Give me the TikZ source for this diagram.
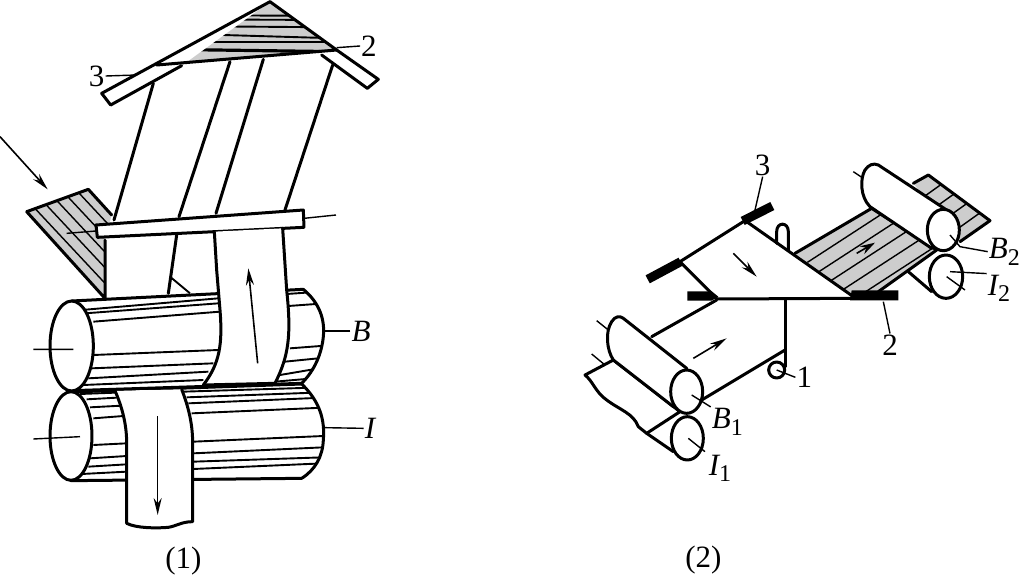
\documentclass[tikz,border=0pt]{standalone}
\usepackage{fontspec}
\setmainfont{Liberation Serif}
\usetikzlibrary{arrows.meta}
\definecolor{paper}{HTML}{CDCDCD}
\newcommand{\subs}[2]{{\itshape #1}\raisebox{-.22em}{\fontsize{24}{24}\selectfont #2}}
\tikzset{
  ink/.style={line width=3pt,line join=round,line cap=round},
  rule/.style={line width=1.9pt},
  thin rule/.style={line width=1.4pt},
  bar/.style={line width=9pt,line cap=butt},
  lbl/.style={font=\fontsize{31}{31}\selectfont,inner sep=1pt},
  ilbl/.style={font=\fontsize{31}{31}\selectfont\itshape,inner sep=1pt},
  flow/.style={line width=1.6pt,-{Stealth[length=17pt,width=8pt]}},
  blank/.style={fill=white}
}
\begin{document}
\begin{tikzpicture}[x=1pt,y=-1pt]
\useasboundingbox (0,0) rectangle (1019,576);
\fill[white] (0,0) rectangle (1019,576);
% ---------- figure (1)
\begin{scope}[x=.33333pt,y=-.33333pt]
 % top triangle
 \fill[paper] (810,5) -- (1010,150) -- (470,195) -- cycle;
 \begin{scope}
  \clip (810,5) -- (1010,150) -- (470,195) -- cycle;
  \foreach \b/\d in {45/48,58/60,78/82,100/115,125/125}
   \draw[rule] (500,\b) -- (1010,\d);
  \draw[line width=3.2pt] (500,148) -- (1010,155);
 \end{scope}
 % sheets
 \draw[ink] (460,250) -- (342,660) (690,185) -- (537,650) (790,178) -- (648,640) (998,195) -- (855,630);
 % roof bars
 \draw[ink,blank] (1010,150) -- (1135,238) -- (1102,265) -- (965,165);
 \draw[ink,blank] (810,5) -- (305,280) -- (332,315) -- (545,197);
 \draw[ink] (810,5) -- (1010,150) (470,195) -- (1010,150);
 % feed sheet
 \fill[paper] (80,635) -- (265,568) -- (335,645) -- (315,720) -- (315,895) -- cycle;
 \begin{scope}
  \clip (80,635) -- (265,568) -- (335,645) -- (315,720) -- (315,895) -- cycle;
  \foreach \o in {0,33,...,300}
   \draw[thin rule] (100+\o,620-.35*\o) -- (100+\o+290,620-.35*\o+310);
 \end{scope}
 \draw[ink] (80,635) -- (265,568) -- (335,645) (315,720) -- (315,895) -- (80,635);
 % guide bar
 \draw[ink,blank] (288,675) -- (910,630) -- (912,682) -- (292,712) -- cycle;
 \draw[thin rule] (912,655) -- (1008,645) (200,700) -- (288,693);
 \draw[ink] (530,705) -- (505,880);
 \draw[rule] (510,830) -- (570,880);
 \draw[flow] (0,410) -- (143,568);
 \begin{scope}[shift={(0,810)}]
  % lower roller
  \draw[ink,blank] (213,366) -- (905,342) .. controls (960,395) and (975,450) .. (970,510) .. controls (968,560) and (945,600) .. (905,625) -- (213,632) -- cycle;
  \begin{scope}
   \clip (213,366) -- (905,342) .. controls (960,395) and (975,450) .. (970,510) .. controls (968,560) and (945,600) .. (905,625) -- (213,632) -- cycle;
   \foreach \a/\b/\c/\d in {240/372/345/368,260/388/350/383,270/412/365/407,280/445/370/438,280/525/380/520,270/565/380/558,265/590/380/583,245/612/380/605,
     550/365/970/352,560/382/970/367,565/400/970/383,575/430/970/413,580/515/970/498,580/550/970/532,580/575/970/562,580/597/970/580}
    \draw[rule] (\a,\b) -- (\c,\d);
  \end{scope}
  \draw[ink,blank] (213,498) ellipse [x radius=63,y radius=133];
  % lower belt
  \draw[ink,blank] (345,362) .. controls (370,420) and (380,470) .. (380,520) -- (380,760) .. controls (410,775) and (470,775) .. (505,772) .. controls (530,768) and (545,755) .. (578,755) -- (578,520) .. controls (578,460) and (565,410) .. (545,358);
  % upper roller
  \draw[ink,blank] (215,93) -- (910,58) .. controls (960,100) and (975,150) .. (970,200) .. controls (965,250) and (945,300) .. (905,340) -- (215,362) -- cycle;
  \begin{scope}
   \clip (215,93) -- (910,58) .. controls (960,100) and (975,150) .. (970,200) .. controls (965,250) and (945,300) .. (905,340) -- (215,362) -- cycle;
   \foreach \a/\b/\c/\d in {245/120/655/85,255/130/655/100,280/155/660/125,280/255/655/240,275/295/640/280,265/325/625/305,250/345/610/330,
     860/72/975/64,865/108/975/100,870/235/975/227,855/275/975/263,840/315/975/292,825/335/975/322}
    \draw[rule] (\a,\b) -- (\c,\d);
  \end{scope}
  \draw[ink,blank] (215,228) ellipse [x radius=65,y radius=135];
  % upper belt
  \fill[white] (643,-115) -- (848,-125) -- (860,60) .. controls (875,200) and (865,260) .. (825,340) -- (610,345) .. controls (655,290) and (668,240) .. (665,180) -- (650,0) -- cycle;
  \draw[ink] (643,-115) -- (650,0) -- (660,120) .. controls (668,220) and (660,280) .. (610,345);
  \draw[ink] (848,-125) -- (860,60) .. controls (875,200) and (865,260) .. (825,340);
  \draw[ink] (610,345) -- (825,340);
  \draw[flow] (773,280) -- (745,-5);
  \draw[flow] (473,438) -- (473,735);
  \draw[thin rule] (100,238) -- (220,238) (100,507) -- (240,500);
  \node[ilbl] (lB) at (1083,183) {B};
  \node[ilbl] (lI) at (1110,475) {I};
  \draw[thin rule] (lB.west) -- (975,183);
  \draw[thin rule] (lI.west) -- (975,473);
  \node[lbl] (cap1) at (550,873) {(1)};
 \end{scope}
 \node[lbl] (l3) at (290,228) {3};
 \node[lbl] (l2) at (1107,138) {2};
 \draw[thin rule] (l3.east) -- (410,225);
 \draw[thin rule] (l2.west) -- (1010,143);
\end{scope}
% ---------- figure (2)
\begin{scope}[shift={(570,150)},x=.33333pt,y=-.33333pt]
 % rear sheet behind B2
 \fill[paper] (1030,100) -- (1075,75) -- (1260,212) -- (1170,275) -- cycle;
 \begin{scope}
  \clip (1030,100) -- (1075,75) -- (1260,212) -- (1170,275) -- cycle;
  \foreach \o in {0,1,2,3,4}
   \draw[thin rule] (1055+\o*38,145+\o*29) -- (1125+\o*38,95+\o*29);
 \end{scope}
 \draw[ink] (1030,100) -- (1075,75) -- (1260,212) -- (1170,275);
 % lower right roller
 \draw[ink] (1015,365) -- (1085,425);
 \draw[ink,blank] (1128,380) ellipse [x radius=50,y radius=65];
 % coated sheet
 \fill[paper] (675,310) -- (905,175) -- (1100,300) -- (925,425) -- (850,440) -- cycle;
 \begin{scope}
  \clip (675,310) -- (905,175) -- (1100,300) -- (925,425) -- (850,440) -- cycle;
  \foreach \o in {0,1,...,6}
   \draw[thin rule] (700+\o*36,345+\o*27) -- (1000+\o*36,150+\o*27);
 \end{scope}
 \draw[ink] (675,310) -- (905,175) (905,175) -- (1100,300) (1100,300) -- (925,425);
 \draw[flow,-{Stealth[length=15pt,width=9pt]}] (860,310) -- (915,278);
 % roller B2
 \draw[ink,blank] (925,45) -- (1130,180) -- (1085,295) -- (900,170) .. controls (870,140) and (870,85) .. (885,60) .. controls (895,45) and (910,38) .. (925,45) -- cycle;
 \draw[ink,blank] (1120,240) ellipse [x radius=48,y radius=62];
 \draw[thin rule] (850,65) -- (880,85);
 % small top loop
 \draw[ink] (620,280) -- (620,245) .. controls (620,215) and (655,215) .. (655,245) -- (655,300);
 % triangular sheet
 \draw[ink] (530,215) -- (850,440);
 \draw[ink] (330,335) -- (520,215);
 \draw[ink] (330,335) -- (440,445);
 \draw[ink] (440,447) -- (850,445);
 \draw[ink] (440,450) -- (245,560);
 \draw[ink] (645,450) -- (645,650);
 \draw[ink] (645,600) -- (395,750);
 % bars
 \draw[bar] (518,213) -- (607,168);
 \draw[bar] (233,388) -- (332,335);
 \fill[black] (352,424) -- (425,424) -- (445,440) -- (425,452) -- (352,452) -- cycle;
 \fill[black] (845,421) -- (985,421) -- (985,451) -- (840,451) -- cycle;
 % small roller 1
 \draw[ink,blank] (620,660) circle [radius=24];
 \node[lbl] (l1) at (703,682) {1};
 \draw[thin rule] (l1.west) -- (620,660);
 % lower-left paper
 \draw[ink,blank] (130,630) -- (45,675) .. controls (70,695) and (75,725) .. (110,750) .. controls (150,780) and (190,790) .. (205,830) -- (230,850) -- (330,785) -- cycle;
 \draw[ink] (230,850) -- (310,905);
 \draw[ink,blank] (352,865) ellipse [x radius=48,y radius=65];
 \draw[thin rule] (65,612) -- (105,645);
 % roller B1
 \draw[ink,blank] (160,505) -- (350,655) -- (310,770) -- (130,630) .. controls (110,600) and (105,545) .. (125,515) .. controls (135,498) and (150,497) .. (160,505) -- cycle;
 \draw[ink,blank] (350,725) ellipse [x radius=48,y radius=65];
 \draw[thin rule] (80,512) -- (115,540);
 \draw[flow] (370,625) -- (470,565);
 \draw[flow] (490,310) -- (560,380);
 % labels
 \node[lbl] (n3) at (578,45) {3};
 \draw[thin rule] (n3.south) -- (555,180);
 \node[lbl] (n2) at (960,585) {2};
 \draw[thin rule] (n2.north) -- (940,455);
 \node[lbl] (b1) at (472,815) {\subs{B}{1}};
 \node[lbl] (i1) at (450,955) {\subs{I}{1}};
 \node[lbl] (b2) at (1303,305) {\subs{B}{2}};
 \node[lbl] (i2) at (1287,415) {\subs{I}{2}};
 \draw[thin rule] (365,735) -- (b1.north west);
 \draw[thin rule] (355,865) -- (405,905);
 \draw[thin rule] (1140,255) -- (1170,290) -- (b2.west);
 \draw[thin rule] (1140,365) -- (i2.north west);
 \draw[thin rule] (1130,380) -- (1185,420);
 \node[lbl] (cap2) at (400,1230) {(2)};
\end{scope}
\end{tikzpicture}
\end{document}
